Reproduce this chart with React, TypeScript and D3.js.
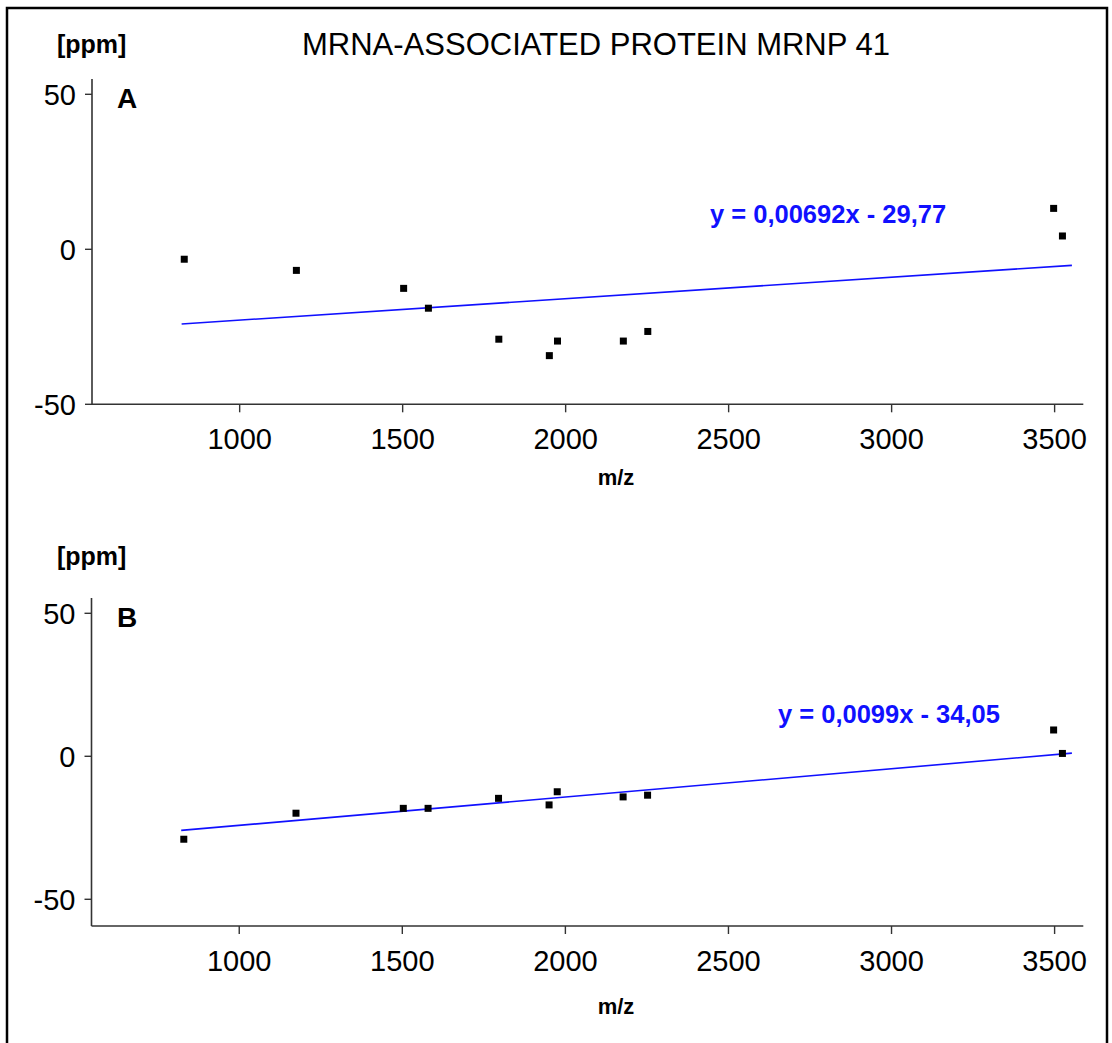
import React from "react";
import * as d3 from "d3";

// ---- data ----
const mzValues = [830, 1174, 1503, 1579, 1795, 1950, 1975, 2177, 2252, 3497, 3524];
const ppmA = [-3.2, -6.8, -12.6, -19.0, -29.0, -34.3, -29.6, -29.6, -26.5, 13.2, 4.3];
const ppmB = [-29.0, -19.9, -18.2, -18.2, -14.7, -17.0, -12.4, -14.2, -13.6, 9.2, 1.0];
const xTicks = [1000, 1500, 2000, 2500, 3000, 3500];
const yTicks = [-50, 0, 50];
const fitSlopes = [0.00692, 0.0099];
const fitIntercepts = [-29.77, -34.05];
const fitMzRange = [822, 3553];
const equations = ["y = 0,00692x - 29,77", "y = 0,0099x - 34,05"];
const panelLetters = ["A", "B"];
const title = "MRNA-ASSOCIATED PROTEIN MRNP 41";
const yUnit = "[ppm]";
const xLabel = "m/z";

const FONT = "'Liberation Sans', Arial, Helvetica, sans-serif";
const W = 1112;
const H = 1043;

type Panel = {
  values: number[];
  slope: number;
  intercept: number;
  equation: string;
  letter: string;
  left: number;
  right: number;
  top: number;
  bottom: number;
  yDomain: [number, number];
  eqX: number;
  eqY: number;
  unitY: number;
  xLabelY: number;
};

const panels: Panel[] = [
  {
    values: ppmA,
    slope: fitSlopes[0],
    intercept: fitIntercepts[0],
    equation: equations[0],
    letter: panelLetters[0],
    left: 92,
    right: 1083.3,
    top: 79,
    bottom: 404.3,
    yDomain: [-50, 54.94],
    eqX: 710,
    eqY: 223,
    unitY: 53,
    xLabelY: 485,
  },
  {
    values: ppmB,
    slope: fitSlopes[1],
    intercept: fitIntercepts[1],
    equation: equations[1],
    letter: panelLetters[1],
    left: 91.5,
    right: 1083.3,
    top: 598,
    bottom: 926,
    yDomain: [-59.34, 55.35],
    eqX: 778,
    eqY: 723,
    unitY: 565,
    xLabelY: 1014,
  },
];

function PanelView({ p }: { p: Panel }) {
  const x = d3.scaleLinear().domain([547, 3588]).range([p.left, p.right]);
  const y = d3.scaleLinear().domain(p.yDomain).range([p.bottom, p.top]);
  const fit = (m: number) => p.slope * m + p.intercept;
  const linePath = d3
    .line<number>()
    .x((m) => x(m))
    .y((m) => y(fit(m)))(fitMzRange);
  const axisColor = "#333";
  return (
    <g>
      <text x={57} y={p.unitY} fontFamily={FONT} fontWeight="bold" fontSize={25} fill="#000">
        {yUnit}
      </text>
      <text x={117} y={y(50) + 14} fontFamily={FONT} fontWeight="bold" fontSize={28} fill="#000">
        {p.letter}
      </text>
      {/* axes */}
      <line x1={p.left} x2={p.left} y1={p.top} y2={p.bottom} stroke={axisColor} strokeWidth={1.6} />
      <line x1={p.left} x2={p.right} y1={p.bottom} y2={p.bottom} stroke={axisColor} strokeWidth={1.6} />
      {yTicks.map((t) => (
        <g key={"y" + t}>
          <line x1={p.left - 7} x2={p.left} y1={y(t)} y2={y(t)} stroke={axisColor} strokeWidth={1.4} />
          <text
            x={p.left - 16}
            y={y(t)}
            dy="0.36em"
            textAnchor="end"
            fontFamily={FONT}
            fontSize={29}
            fill="#000"
          >
            {t}
          </text>
        </g>
      ))}
      {xTicks.map((t) => (
        <g key={"x" + t}>
          <line x1={x(t)} x2={x(t)} y1={p.bottom} y2={p.bottom + 8} stroke={axisColor} strokeWidth={1.4} />
          <text x={x(t)} y={p.bottom + 45} textAnchor="middle" fontFamily={FONT} fontSize={29} fill="#000">
            {t}
          </text>
        </g>
      ))}
      <text x={616} y={p.xLabelY} textAnchor="middle" fontFamily={FONT} fontWeight="bold" fontSize={22} fill="#000">
        {xLabel}
      </text>
      {/* regression line */}
      <path d={linePath ?? ""} fill="none" stroke="#1010ff" strokeWidth={1.6} />
      <text x={p.eqX} y={p.eqY} fontFamily={FONT} fontWeight="bold" fontSize={25.5} fill="#1010ff">
        {p.equation}
      </text>
      {/* points */}
      {mzValues.map((m, i) => (
        <rect key={i} x={x(m) - 3.5} y={y(p.values[i]) - 3.5} width={7} height={7} fill="#000" />
      ))}
    </g>
  );
}

export default function App() {
  return (
    <div style={{ position: "absolute", left: 0, top: 0 }}>
      <svg width={W} height={H} style={{ display: "block", background: "#fff" }}>
        <rect x={0} y={0} width={W} height={H} fill="#fff" />
        <rect x={7} y={8} width={1100} height={1100} fill="none" stroke="#000" strokeWidth={2.5} />
        <text x={596} y={55} textAnchor="middle" fontFamily={FONT} fontSize={31} fill="#000">
          {title}
        </text>
        {panels.map((p, i) => (
          <PanelView key={i} p={p} />
        ))}
      </svg>
    </div>
  );
}
